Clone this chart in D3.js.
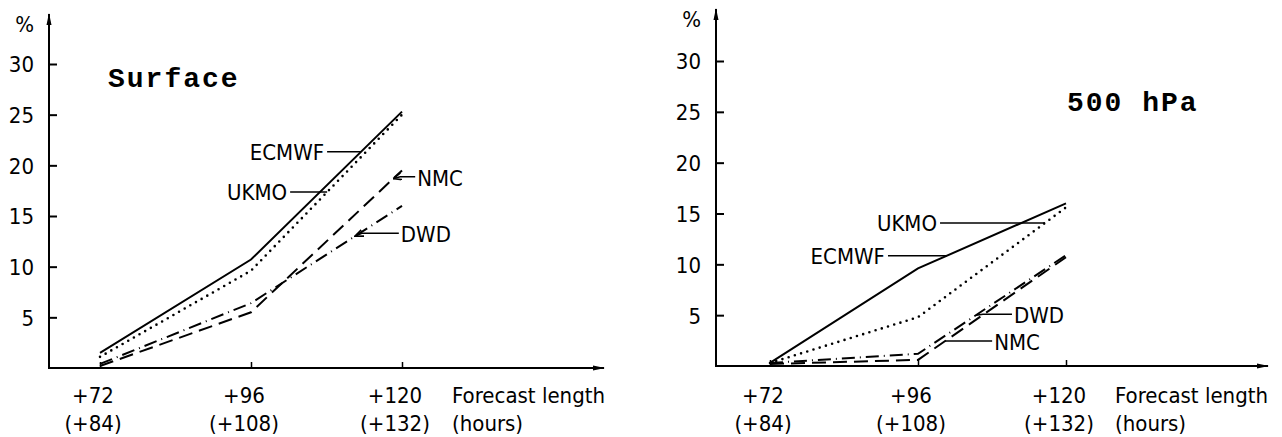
<!DOCTYPE html>
<html>
<head>
<meta charset="utf-8">
<script src="https://cdn.jsdelivr.net/npm/d3@7"></script>
<style>
  body { margin: 0; background: #fff; }
  svg { display: block; }
  .lbl { font-family: "DejaVu Sans Condensed", "DejaVu Sans", sans-serif; font-stretch: condensed; font-size: 22px; fill: #000; }
  .title { font-family: "Liberation Mono", "Courier New", monospace; font-weight: bold; font-size: 28px; letter-spacing: 2px; fill: #000; }
</style>
</head>
<body>
<div id="chart"></div>
<script>
// forecast lengths (hours) and their labels
const hours = [72, 96, 120];
const hourLabels = ["+72", "+96", "+120"];
const hourLabelsAlt = ["(+84)", "(+108)", "(+132)"];
const yTicks = [5, 10, 15, 20, 25, 30];

// Surface panel (%)
const surfaceECMWF = [1.5, 10.7, 25.3];
const surfaceUKMO = [1.1, 9.6, 25.0];
const surfaceNMC = [0.2, 5.5, 19.5];
const surfaceDWD = [0.4, 6.4, 16.0];

// 500 hPa panel (%)
const hpaECMWF = [0.3, 9.6, 16.0];
const hpaUKMO = [0.3, 4.8, 15.6];
const hpaDWD = [0.3, 1.2, 10.9];
const hpaNMC = [0.2, 0.6, 10.7];

const styles = {
    ECMWF: null,
    UKMO: "0 6.5",
    NMC: "14 7",
    DWD: "13 5 1 5"
};

const width = 1282, height = 437;
const svg = d3.select("#chart").append("svg")
    .attr("width", width)
    .attr("height", height);

const defs = svg.append("defs");
defs.append("marker")
    .attr("id", "arr")
    .attr("viewBox", "0 0 12 6")
    .attr("refX", 11).attr("refY", 3)
    .attr("markerWidth", 12).attr("markerHeight", 6)
    .attr("markerUnits", "userSpaceOnUse")
    .attr("orient", "auto")
    .append("path").attr("d", "M0,0.5 L12,3 L0,5.5 Z").attr("fill", "#000");
defs.append("marker")
    .attr("id", "small")
    .attr("viewBox", "0 0 9 8")
    .attr("refX", 8.5).attr("refY", 4)
    .attr("markerWidth", 9).attr("markerHeight", 8)
    .attr("markerUnits", "userSpaceOnUse")
    .attr("orient", "auto")
    .append("path").attr("d", "M0,0.5 L8.5,4 L0,7.5").attr("fill", "none").attr("stroke", "#000").attr("stroke-width", 1.6);

// value of a series at an arbitrary hour (linear between points)
function valueAt(series, h) {
    return d3.scaleLinear().domain(hours).range(series)(h);
}

function panel(cfg) {
    const g = svg.append("g");
    const x = d3.scaleLinear().domain([72, 120]).range(cfg.xRange);
    const y = d3.scaleLinear().domain([0, 30]).range(cfg.yRange);
    const x0 = cfg.axisX, y0 = y(0);

    //y axis with ticks pointing inwards
    g.append("g")
        .attr("transform", `translate(${x0},0)`)
        .call(d3.axisLeft(y).tickValues(yTicks).tickSize(-8).tickPadding(15))
        .call(a => a.select(".domain").remove())
        .call(a => a.selectAll("line").attr("stroke-width", 2))
        .call(a => a.selectAll("text").attr("class", "lbl").attr("dy", "0.36em"));

    g.append("line")
        .attr("x1", x0).attr("x2", x0)
        .attr("y1", y0 + 1).attr("y2", cfg.yTop)
        .attr("stroke", "#000").attr("stroke-width", 2)
        .attr("marker-end", "url(#arr)");
    g.append("text").attr("class", "lbl")
        .attr("x", x0 - 15).attr("y", cfg.yTop + 18)
        .attr("text-anchor", "end")
        .text("%");

    //x axis
    g.append("g")
        .attr("transform", `translate(0,${y0})`)
        .call(d3.axisBottom(x).tickValues(hours).tickSize(-6).tickFormat(""))
        .call(a => a.select(".domain").remove())
        .call(a => a.selectAll("line").attr("stroke-width", 1.5));
    g.append("line")
        .attr("x1", x0 - 1).attr("x2", cfg.xEnd)
        .attr("y1", y0).attr("y2", y0)
        .attr("stroke", "#000").attr("stroke-width", 2)
        .attr("marker-end", "url(#arr)");

    g.selectAll(".hl").data(hours).enter().append("text")
        .attr("class", "lbl")
        .attr("x", d => x(d) - 7).attr("y", 403)
        .attr("text-anchor", "middle")
        .text((d, i) => hourLabels[i]);
    g.selectAll(".hl2").data(hours).enter().append("text")
        .attr("class", "lbl")
        .attr("x", d => x(d) - 7).attr("y", 431)
        .attr("text-anchor", "middle")
        .text((d, i) => hourLabelsAlt[i]);
    g.append("text").attr("class", "lbl")
        .attr("x", cfg.xLabel).attr("y", 403).text("Forecast length");
    g.append("text").attr("class", "lbl")
        .attr("x", cfg.xLabel).attr("y", 431).text("(hours)");

    g.append("text").attr("class", "title")
        .attr("x", cfg.titleX).attr("y", cfg.titleY)
        .text(cfg.title);

    //lines
    const line = d3.line().x((d, i) => x(hours[i])).y(d => y(d));
    cfg.series.forEach(s => {
        g.append("path")
            .attr("d", line(s.values))
            .attr("fill", "none")
            .attr("stroke", "#000")
            .attr("stroke-width", s.name === "UKMO" ? 2.6 : 2)
            .attr("stroke-linecap", s.name === "UKMO" ? "round" : "butt")
            .attr("stroke-dasharray", styles[s.name]);
    });

    //labels with leader lines
    cfg.notes.forEach(n => {
        const s = cfg.series.find(d => d.name === n.name);
        const px = x(n.at), py = y(valueAt(s.values, n.at));
        if (n.side === "left") {
            g.append("line")
                .attr("x1", px).attr("y1", py)
                .attr("x2", px - n.len).attr("y2", py)
                .attr("stroke", "#000").attr("stroke-width", 1.5);
            g.append("text").attr("class", "lbl")
                .attr("x", px - n.len - 3).attr("y", py + 8)
                .attr("text-anchor", "end").text(n.name);
        } else {
            const ly = py + n.dy;
            g.append("path")
                .attr("d", `M${px + n.len},${ly} L${px + 7},${ly} L${px},${py}`)
                .attr("fill", "none")
                .attr("stroke", "#000").attr("stroke-width", 1.5)
                .attr("marker-end", n.arrow ? "url(#small)" : null);
            g.append("text").attr("class", "lbl")
                .attr("x", px + n.len + 2).attr("y", ly + 9)
                .text(n.name);
        }
    });
}

panel({
    xRange: [100, 402], yRange: [368, 64], axisX: 49, yTop: 14, xEnd: 604, xLabel: 452,
    title: "Surface", titleX: 108, titleY: 87,
    series: [
        {name: "ECMWF", values: surfaceECMWF},
        {name: "UKMO", values: surfaceUKMO},
        {name: "NMC", values: surfaceNMC},
        {name: "DWD", values: surfaceDWD}
    ],
    notes: [
        {name: "ECMWF", at: 113.5, side: "left", len: 34},
        {name: "UKMO", at: 108.1, side: "left", len: 37},
        {name: "NMC", at: 118.6, side: "right", len: 22, dy: -2, arrow: true},
        {name: "DWD", at: 112.5, side: "right", len: 44, dy: -3, arrow: true}
    ]
});

panel({
    xRange: [770, 1066], yRange: [366, 61], axisX: 716, yTop: 9, xEnd: 1268, xLabel: 1115,
    title: "500 hPa", titleX: 1067, titleY: 111,
    series: [
        {name: "ECMWF", values: hpaECMWF},
        {name: "UKMO", values: hpaUKMO},
        {name: "DWD", values: hpaDWD},
        {name: "NMC", values: hpaNMC}
    ],
    notes: [
        {name: "ECMWF", at: 100.7, side: "left", len: 59},
        {name: "UKMO", at: 116.6, side: "left", len: 105},
        {name: "DWD", at: 105.4, side: "right", len: 36, dy: -1, arrow: false},
        {name: "NMC", at: 100.4, side: "right", len: 47, dy: 0, arrow: false}
    ]
});
</script>
</body>
</html>
